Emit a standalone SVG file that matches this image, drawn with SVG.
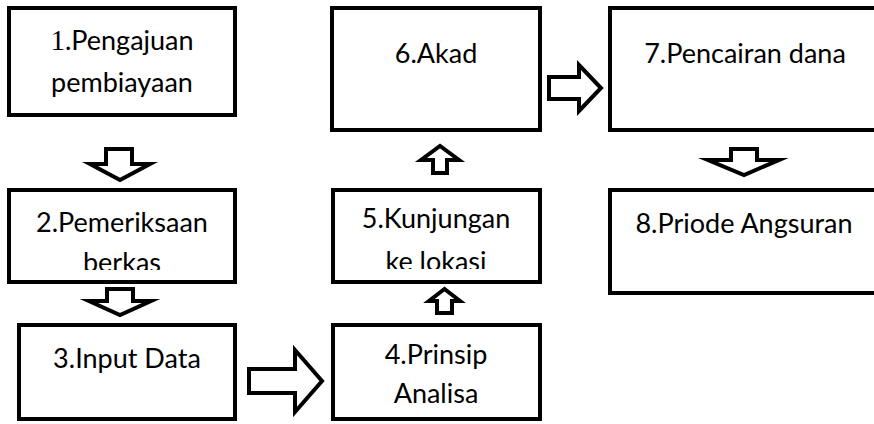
<svg xmlns="http://www.w3.org/2000/svg" width="874" height="424" viewBox="0 0 874 424">
<style>
.box{fill:#fff;stroke:#000;stroke-width:4}
.arr{fill:#fff;stroke:#000;stroke-width:4;stroke-linejoin:miter;stroke-miterlimit:10}
text{font-family:Lato,"Liberation Sans",sans-serif;font-size:27px;fill:#000;text-anchor:middle}
.serif{font-family:"Liberation Serif",serif;font-size:29px}
</style>
<defs>
<clipPath id="c2"><rect x="0" y="180" width="300" height="90"/></clipPath>
<clipPath id="c5"><rect x="320" y="180" width="240" height="89"/></clipPath>
</defs>
<rect width="874" height="424" fill="#fff"/>
<g id="node1"><rect class="box" x="9" y="8" width="226" height="107"/><text x="122" y="50"><tspan class="serif">1</tspan>.Pengajuan</text><text x="122" y="92">pembiayaan</text></g>
<g id="node2"><rect class="box" x="9" y="190" width="226" height="92"/><g clip-path="url(#c2)"><text x="122" y="232">2.Pemeriksaan</text><text x="122" y="272">berkas</text></g></g>
<g id="node3"><rect class="box" x="19" y="325" width="216" height="94"/><text x="127" y="368">3.Input Data</text></g>
<g id="node4"><rect class="box" x="333" y="325" width="207" height="94"/><text x="436" y="364">4.Prinsip</text><text x="436" y="403">Analisa</text></g>
<g id="node5"><rect class="box" x="333" y="190" width="207" height="92"/><g clip-path="url(#c5)"><text x="436" y="228">5.Kunjungan</text><text x="436" y="271">ke lokasi</text></g></g>
<g id="node6"><rect class="box" x="332" y="8" width="208" height="122"/><text x="436" y="63">6.Akad</text></g>
<g id="node7"><rect class="box" x="610" y="8" width="300" height="122"/><text x="745" y="63">7.Pencairan dana</text></g>
<g id="node8"><rect class="box" x="610" y="190" width="300" height="103"/><text x="744" y="233">8.Priode Angsuran</text></g>
<g id="connectors">
<path class="arr" d="M106,149 H132 V164 H150 L120,180 L90,164 H106 Z"/>
<path class="arr" d="M107,289 H133 V301 H151 L120,315 L89,301 H107 Z"/>
<path class="arr" d="M249,369 H295 V350 L322,381 L295,412 V393 H249 Z"/>
<path class="arr" d="M437,313 V301 H429 L444.5,289 L460,301 H452 V313 Z"/>
<path class="arr" d="M433,173 V160 H421 L440,146 L459,160 H447 V173 Z"/>
<path class="arr" d="M549,77 H579 V65 L601,88 L579,111 V99 H549 Z"/>
<path class="arr" d="M731,149 H757 V160 H779 L744,175 L708,160 H731 Z"/>
</g>
</svg>
